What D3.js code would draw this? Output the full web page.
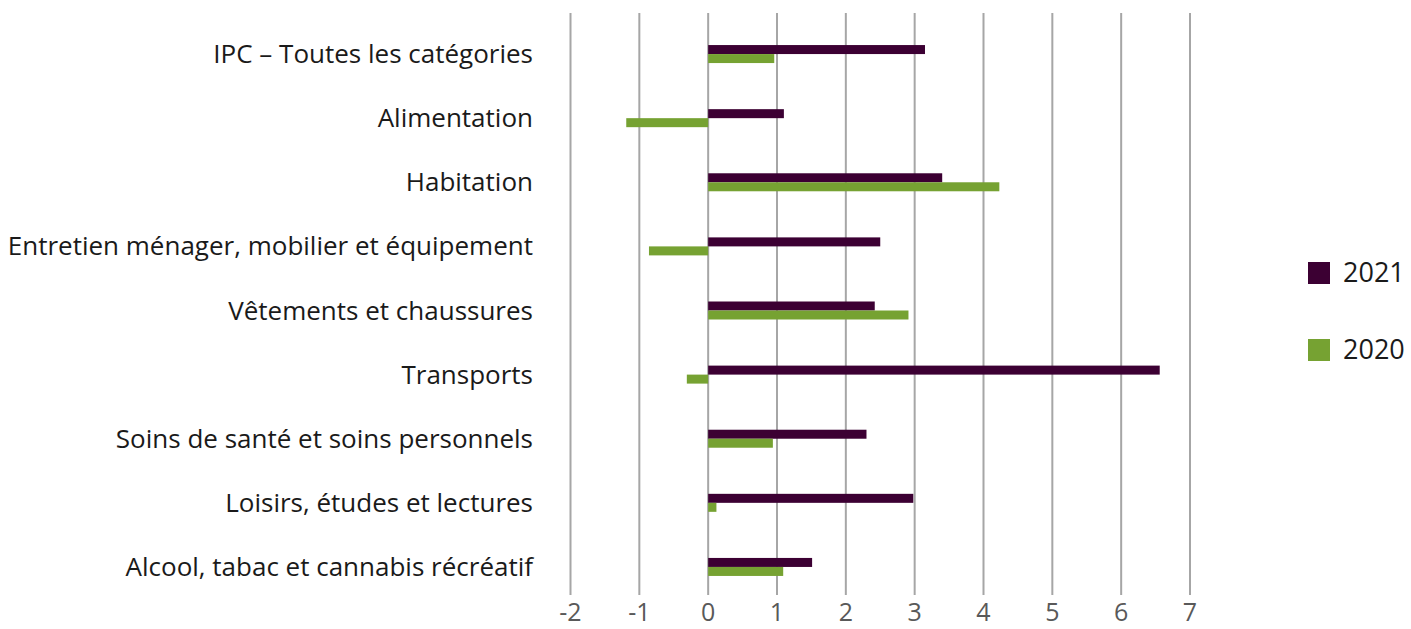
<!DOCTYPE html>
<html>
<head>
<meta charset="utf-8">
<script src="https://cdn.jsdelivr.net/npm/d3@7"></script>
<style>
  body { margin: 0; background: #fff; }
  svg { display: block; font-family: "Open Sans", "Noto Sans", sans-serif; }
</style>
</head>
<body>
<script>
var categories = [
  "IPC – Toutes les catégories",
  "Alimentation",
  "Habitation",
  "Entretien ménager, mobilier et équipement",
  "Vêtements et chaussures",
  "Transports",
  "Soins de santé et soins personnels",
  "Loisirs, études et lectures",
  "Alcool, tabac et cannabis récréatif"
];
var series = ["2021", "2020"];
var values2021 = [3.15, 1.10, 3.40, 2.50, 2.42, 6.56, 2.30, 2.98, 1.51];
var values2020 = [0.96, -1.19, 4.23, -0.86, 2.91, -0.31, 0.94, 0.12, 1.09];
var xTicks = [-2, -1, 0, 1, 2, 3, 4, 5, 6, 7];
var colors = ["#3c0033", "#76a232"];

var width = 1411, height = 629;

var svg = d3.select("body").append("svg")
    .attr("width", width)
    .attr("height", height);

var x = d3.scaleLinear()
    .domain([-2, 7])
    .range([570.5, 1190]);

var y = d3.scaleBand()
    .domain(categories)
    .range([22, 599]);

var y1 = d3.scaleBand()
    .domain(series)
    .range([-9, 9]);

var color = d3.scaleOrdinal().domain(series).range(colors);

// gridlines
svg.append("g")
  .selectAll("line")
  .data(xTicks)
  .enter().append("line")
    .attr("x1", function(d) { return x(d); })
    .attr("x2", function(d) { return x(d); })
    .attr("y1", 13)
    .attr("y2", 595)
    .attr("stroke", "#a6a6a6")
    .attr("stroke-width", 2);

// x tick labels
svg.append("g")
  .selectAll("text")
  .data(xTicks)
  .enter().append("text")
    .attr("x", function(d) { return x(d); })
    .attr("y", 621)
    .attr("text-anchor", "middle")
    .attr("fill", "#595959")
    .attr("font-size", 25)
    .text(function(d) { return d; });

// category labels
svg.append("g")
  .selectAll("text")
  .data(categories)
  .enter().append("text")
    .attr("x", 533)
    .attr("y", function(d) { return y(d) + y.bandwidth() / 2; })
    .attr("dy", "0.35em")
    .attr("text-anchor", "end")
    .attr("fill", "#1a1a1a")
    .attr("font-size", 26)
    .text(function(d) { return d; });

// bars
var rows = categories.map(function(c, i) {
  return { cat: c, vals: [{ key: "2021", v: values2021[i] }, { key: "2020", v: values2020[i] }] };
});

svg.append("g")
  .selectAll("g")
  .data(rows)
  .enter().append("g")
    .attr("transform", function(d) { return "translate(0," + (y(d.cat) + y.bandwidth() / 2) + ")"; })
  .selectAll("rect")
  .data(function(d) { return d.vals; })
  .enter().append("rect")
    .attr("x", function(d) { return x(Math.min(0, d.v)); })
    .attr("y", function(d) { return y1(d.key); })
    .attr("width", function(d) { return Math.abs(x(d.v) - x(0)); })
    .attr("height", y1.bandwidth())
    .attr("fill", function(d) { return color(d.key); });

// legend
var legend = svg.append("g")
  .selectAll("g")
  .data(series)
  .enter().append("g")
    .attr("transform", function(d, i) { return "translate(1308," + (262 + i * 77) + ")"; });

legend.append("rect")
    .attr("width", 22)
    .attr("height", 22)
    .attr("fill", color);

legend.append("text")
    .attr("x", 35)
    .attr("y", 11)
    .attr("dy", "0.35em")
    .attr("fill", "#1a1a1a")
    .attr("font-size", 27)
    .text(function(d) { return d; });
</script>
</body>
</html>
